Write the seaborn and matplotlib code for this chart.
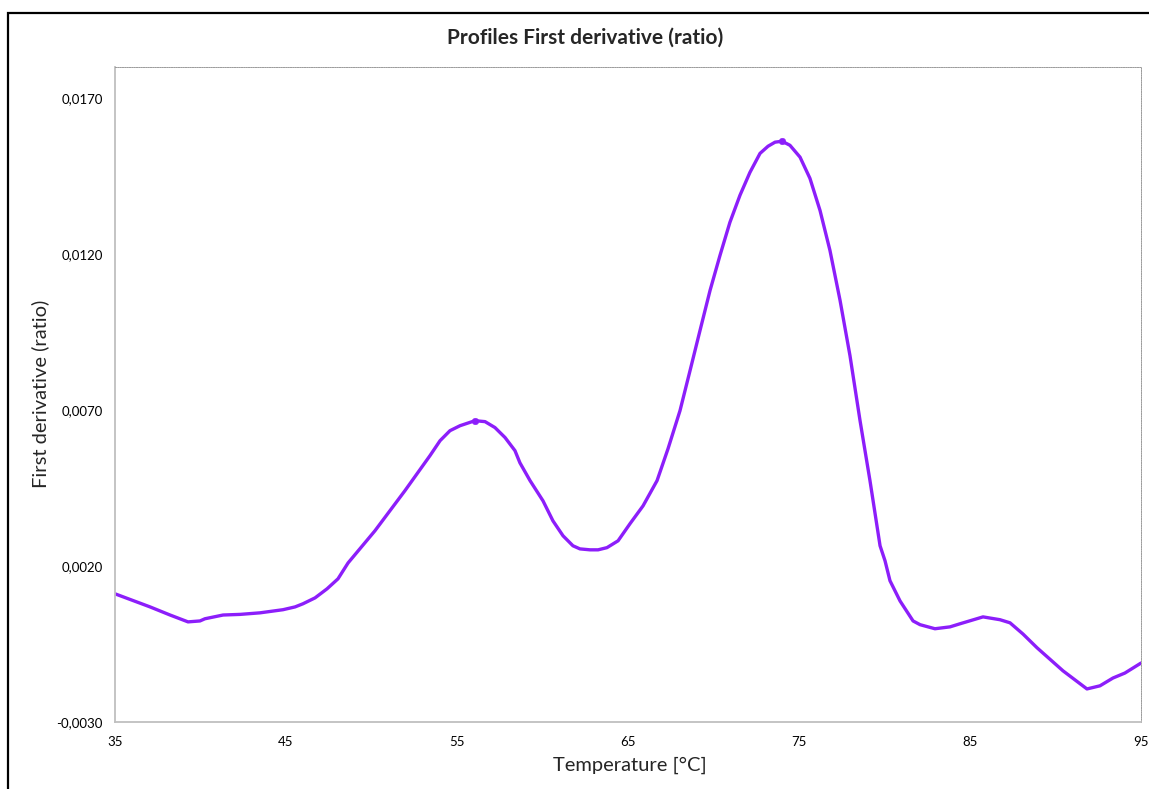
import matplotlib
matplotlib.use("Agg")
import matplotlib.pyplot as plt
import seaborn as sns
import pandas as pd
from matplotlib.patches import Rectangle

temperature = [35.0, 37.05, 38.22, 39.27, 39.97, 40.26, 41.32, 42.31, 43.48, 44.82,
               45.53, 45.99, 46.70, 47.40, 48.04, 48.63,
               50.20, 51.96, 53.42, 54.01, 54.59, 55.18, 56.05, 56.64, 57.22, 57.81,
               58.39, 58.68, 59.27, 60.03, 60.61, 61.20, 61.78, 62.19, 62.78, 63.25,
               63.77, 64.42, 65.12, 65.88, 66.70, 67.34, 68.04, 68.63, 69.21, 69.80,
               70.38, 70.96, 71.55, 72.13, 72.72, 73.19, 73.60, 74.01, 74.47, 75.06,
               75.64, 76.23, 76.81, 77.40, 77.98, 78.57, 79.15, 79.74, 80.03, 80.32,
               80.91, 81.67, 82.08, 82.95, 83.83, 84.42, 85.76, 86.75, 87.34, 88.10,
               88.92, 90.44, 91.84, 92.60, 93.36, 94.06, 95.0]
derivative = [0.00111, 0.00069, 0.00043, 0.00021, 0.00024, 0.00031, 0.00043, 0.00045, 0.00050, 0.00060,
              0.00069, 0.00079, 0.00098, 0.00127, 0.00159, 0.00210,
              0.00313, 0.00442, 0.00554, 0.00602, 0.00634, 0.00650, 0.00666, 0.00663, 0.00644, 0.00612,
              0.00570, 0.00531, 0.00474, 0.00409, 0.00345, 0.00297, 0.00265, 0.00255, 0.00252, 0.00252,
              0.00259, 0.00281, 0.00336, 0.00393, 0.00474, 0.00576, 0.00698, 0.00827, 0.00955, 0.01084,
              0.01196, 0.01302, 0.01389, 0.01462, 0.01523, 0.01546, 0.01559, 0.01562, 0.01549, 0.01511,
              0.01443, 0.01340, 0.01212, 0.01052, 0.00875, 0.00666, 0.00474, 0.00265, 0.00217, 0.00153,
              0.00088, 0.00024, 0.00012, -0.00001, 0.00005, 0.00015, 0.00037, 0.00028, 0.00018, -0.00018,
              -0.00062, -0.00136, -0.00194, -0.00184, -0.00159, -0.00143, -0.00111]
peak_temperature = [56.05, 74.01]
peak_derivative = [0.00666, 0.01562]

x_ticks = [35, 45, 55, 65, 75, 85, 95]
x_tick_labels = ["35", "45", "55", "65", "75", "85", "95"]
y_ticks = [-0.0030, 0.0020, 0.0070, 0.0120, 0.0170]
y_tick_labels = ["-0,0030", "0,0020", "0,0070", "0,0120", "0,0170"]

sns.set_theme(style="white")
plt.rcParams['font.family'] = ['Lato', 'DejaVu Sans']

W, H = 1149, 789
fig = plt.figure(figsize=(W / 100, H / 100), dpi=100)
ax = fig.add_axes([115 / W, 1 - 722 / H, (1141 - 115) / W, (722 - 67) / H])

color = "#8C1EFA"
df = pd.DataFrame({"Temperature": temperature, "Derivative": derivative})
sns.lineplot(data=df, x="Temperature", y="Derivative", ax=ax, color=color, linewidth=2.4,
             solid_joinstyle="round", solid_capstyle="round")
pk = pd.DataFrame({"Temperature": peak_temperature, "Derivative": peak_derivative})
sns.scatterplot(data=pk, x="Temperature", y="Derivative", ax=ax, color=color, s=22,
                edgecolor=color, zorder=3)

ax.set_xlim(35, 95)
ax.set_ylim(-0.0030, 0.0180)
ax.set_xticks(x_ticks)
ax.set_xticklabels(x_tick_labels)
ax.set_yticks(y_ticks)
ax.set_yticklabels(y_tick_labels)
ax.tick_params(axis="both", labelsize=9.5, labelcolor="#000000", length=4, width=1,
               direction="out", color="#BFBFBF")
ax.tick_params(axis="x", pad=6)
ax.tick_params(axis="y", pad=5)

for s in ["left", "bottom"]:
    ax.spines[s].set_color("#BFBFBF")
    ax.spines[s].set_linewidth(1.3)
for s in ["top", "right"]:
    ax.spines[s].set_color("#9A9A9A")
    ax.spines[s].set_linewidth(0.7)
    ax.spines[s].set_linestyle((0, (1.2, 1.2)))

ax.set_xlabel("Temperature [°C]", fontsize=14.5)
ax.set_ylabel("First derivative (ratio)", fontsize=14.5)
ax.xaxis.set_label_coords((630 - 115) / 1026, (722 - 757) / 655)
ax.yaxis.set_label_coords((49 - 115) / 1026, (722 - 394) / 655)
fig.text(585 / W, 1 - 38 / H, "Profiles First derivative (ratio)", ha="center", va="center",
         fontsize=15, fontweight="bold")

border = Rectangle((8 / W, -0.05), 1.2, (1 - 13 / H) + 0.05, transform=fig.transFigure,
                   fill=False, edgecolor="black", linewidth=1.6, clip_on=False)
fig.patches.append(border)

fig.savefig("out.png", dpi=100)
